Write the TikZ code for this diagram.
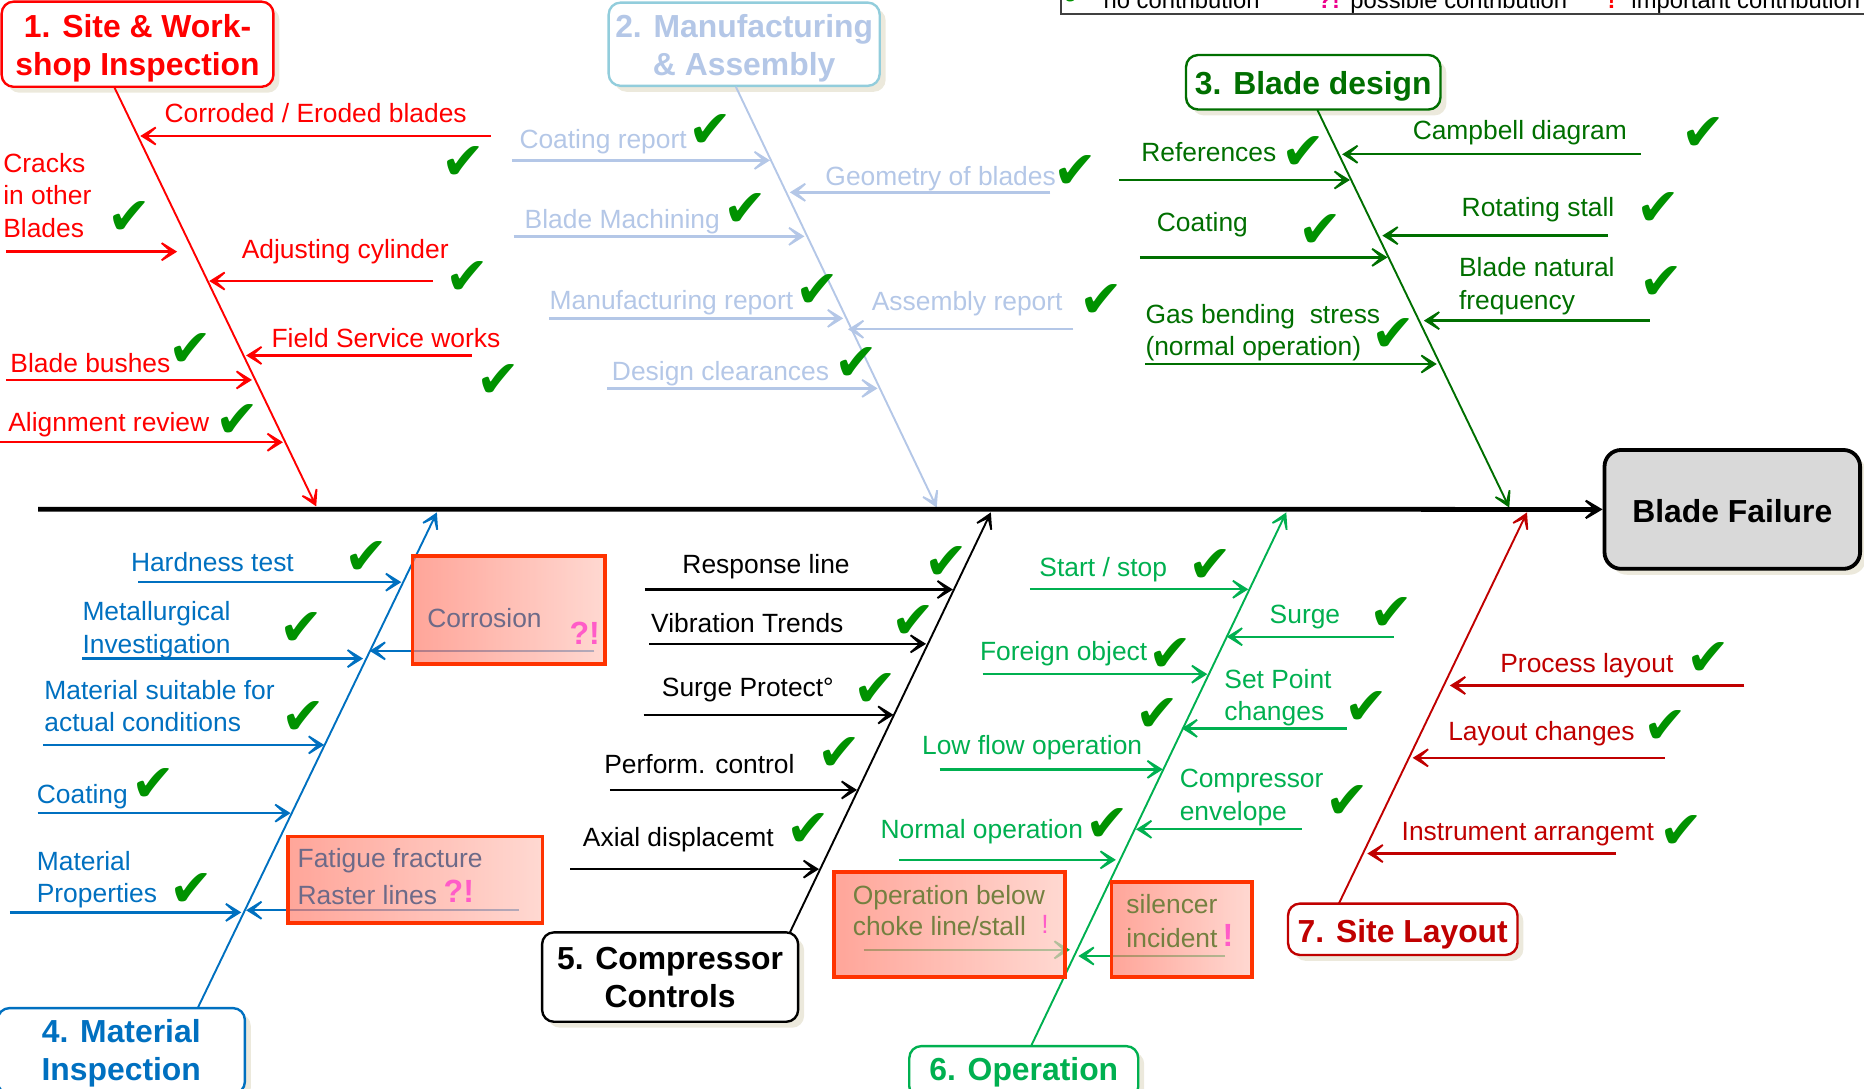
\documentclass[tikz,border=0pt]{standalone}
\usepackage{fontspec}
\setmainfont{Liberation Sans}
\newfontfamily\chkfamily{DejaVu Sans}
\usepackage{tikz}
\usetikzlibrary{arrows.meta,shadows}
\usepackage{xcolor}
\definecolor{siteRed}{HTML}{FF0000}
\definecolor{mfgBlue}{HTML}{B4C7E7}
\definecolor{mfgFrame}{HTML}{92CDDC}
\definecolor{designGreen}{HTML}{006F00}
\definecolor{matBlue}{HTML}{0070C0}
\definecolor{opGreen}{HTML}{00B050}
\definecolor{layoutRed}{HTML}{C00000}
\definecolor{tickGreen}{HTML}{009200}
\definecolor{flagPink}{HTML}{FF5CC8}
\definecolor{hlFrame}{HTML}{FF3300}
\definecolor{hlLeft}{HTML}{FF7F6E}
\definecolor{hlRight}{HTML}{FFC8BE}
\definecolor{hlText}{HTML}{6D6A88}
\definecolor{hlOlive}{HTML}{748040}
\definecolor{shadowBeige}{HTML}{ECE9DC}
\definecolor{failGray}{HTML}{D9D9D9}
\newcommand{\lblfont}{\fontsize{11.1}{13.6}\selectfont}
\newcommand{\ttlfont}{\fontsize{13.4}{16}\selectfont\bfseries}
\newcommand{\tickfont}{\chkfamily\fontsize{22}{22}\selectfont}
\newcommand{\flagfont}{\fontsize{13.5}{15}\selectfont\bfseries}
\newcommand{\legfont}{\fontsize{10}{12}\selectfont}
\newcommand{\topgap}[1]{\rule{0pt}{#1}}
\tikzset{
  lbl/.style={font=\lblfont, inner sep=0pt, anchor=west, align=left},
  cause/.style={line width=1pt, -{Stealth[length=10pt,width=12.5pt,inset=7pt]}},
  bone/.style={line width=0.8pt, -{Stealth[length=10.5pt,width=12pt,inset=7.5pt]}},
  catbox/.style={draw, rounded corners=5pt, line width=1pt, fill=white, font=\ttlfont,
    align=center, inner sep=0pt,
    drop shadow={shadow xshift=2.5pt, shadow yshift=-2.5pt, fill=shadowBeige, opacity=1}},
  tick/.style={font=\tickfont, text=tickGreen, inner sep=0pt},
  flag/.style={font=\flagfont, text=flagPink, inner sep=0pt},
  hlbox/.style={draw=hlFrame, line width=1.6pt, left color=hlLeft, right color=hlRight,
    fill opacity=0.7, inner sep=0pt},
}
\begin{document}
\begin{tikzpicture}[x=0.5pt,y=-0.5pt]
\useasboundingbox (0,0) rectangle (1568,916);

% legend, cut by the top edge
\draw[line width=0.8pt, black!75] (892.8,-10) -- (892.8,11.8) -- (1580,11.8);
\node[tick] (lgtick) at (908,-8) {✔};
\node[font=\legfont, inner sep=0pt, anchor=base west] (lgno) at (928,7.5) {no contribution};
\node[font=\legfont\bfseries, text=magenta, inner sep=0pt, anchor=base west] (lgq) at (1108,7.5) {?!};
\node[font=\legfont, inner sep=0pt, anchor=base west] (lgposs) at (1135.6,7.5) {possible contribution};
\node[font=\legfont\bfseries, text=red, inner sep=0pt, anchor=base west] (lgexcl) at (1352,7.5) {!};
\node[font=\legfont, inner sep=0pt, anchor=base west] (lgimp) at (1372,7.5) {important contribution};

% category boxes
\node[catbox, draw=siteRed, text=siteRed, minimum width=114.3pt, minimum height=35.8pt] (site) at (115.7,37.2) {\topgap{13.3pt}1. Site \& Work-\\shop Inspection};
\node[catbox, draw=mfgFrame, text=mfgBlue, minimum width=114pt, minimum height=35pt] (mfg) at (626,37.2) {\topgap{13.3pt}2. Manufacturing\\\& Assembly};
\node[catbox, draw=designGreen, text=designGreen, minimum width=107pt, minimum height=22.9pt] (design) at (1104.7,69.2) {\topgap{13.3pt}3. Blade design};
\node[catbox, draw=matBlue, text=matBlue, minimum width=104pt, minimum height=36pt] (material) at (102,884) {\topgap{11.8pt}4. Material\\Inspection};
\node[catbox, draw=black, text=black, minimum width=107.7pt, minimum height=37.6pt] (controls) at (563.7,821.9) {5. Compressor\\Controls};
\node[catbox, draw=opGreen, text=opGreen, minimum width=96.3pt, minimum height=22pt] (operation) at (861.2,902) {6. Operation};
\node[catbox, draw=layoutRed, text=layoutRed, minimum width=96.5pt, minimum height=21.6pt] (layout) at (1180,781.7) {\topgap{13.8pt}7. Site Layout};
\node[catbox, line width=1.6pt, rounded corners=7pt, fill=failGray, minimum width=107.5pt, minimum height=50pt] (fail) at (1457.2,428.5) {\topgap{11pt}Blade Failure};

% bones
\coordinate (s1) at (96,73);      \coordinate (h1) at (266,426);
\coordinate (s2) at (619,73);     \coordinate (h2) at (788,427);
\coordinate (s3) at (1108.2,92.5); \coordinate (h3) at (1269.6,427);
\coordinate (s4) at (166.3,848);  \coordinate (h4) at (367.5,431);
\coordinate (s5) at (664.5,784.3); \coordinate (h5) at (833.5,431);
\coordinate (s6) at (867.3,880);  \coordinate (h6) at (1082,431);
\coordinate (s7) at (1126.3,760); \coordinate (h7) at (1284.5,431);
\draw[bone, siteRed] (s1) -- (h1);
\draw[bone, mfgBlue] (s2) -- (h2);
\draw[bone, designGreen] (s3) -- (h3);
\draw[bone, matBlue] (s4) -- (h4);
\draw[bone, black] (s5) -- (h5);
\draw[bone, opGreen] (s6) -- (h6);
\draw[bone, layoutRed] (s7) -- (h7);

% spine
\coordinate (tail) at (32,428.3);
\draw[line width=2pt, -{Stealth[length=11pt,width=13pt,inset=7.5pt]}] (tail) -- (fail.west);

% ribs
\foreach \xa/\xb/\y in {413/118/114.4, 5/149/211.7, 364/176/236.4, 397/207/299, 5/212/319.6, 0/238/372}
  \draw[cause, siteRed] (\xa,\y) -- (\xb,\y);
\foreach \xa/\xb/\y in {430.6/647.7/134.9, 883.6/664.4/161.8, 432/676.7/198.8, 462/709.3/267.8, 903/713.3/277, 511/738.2/326.7}
  \draw[cause, mfgBlue] (\xa,\y) -- (\xb,\y);
\foreach \xa/\xb/\y in {941.3/1135.6/151.4, 1380.3/1129/129.8, 958.8/1167.2/216.5, 1352.8/1162.8/198.2, 1387.7/1197.7/269.7, 963.2/1208.6/306.2}
  \draw[cause, designGreen] (\xa,\y) -- (\xb,\y);
\foreach \xa/\xb/\y in {116.4/337.6/489.7, 500/311/547.5, 69/305.4/554, 36/272.7/626.6, 31.6/244.5/684, 436.4/207/765.7, 8.3/203/767.5}
  \draw[cause, matBlue] (\xa,\y) -- (\xb,\y);
\foreach \xa/\xb/\y in {542.5/801.6/495.9, 546.3/779/541.6, 541.5/751.7/601.4, 513/721/664.5, 479.8/689/731.1}
  \draw[cause, black] (\xa,\y) -- (\xb,\y);
\foreach \xa/\xb/\y in {866.4/1050.1/495.7, 1172.6/1031.9/535.6, 826.6/1015.6/567.1, 1132.8/994/612.7, 790.4/978.2/647.2, 1095/955.6/697.6, 756.6/938.7/723.3, 726.5/900/799, 1030.5/907.1/804.2}
  \draw[cause, opGreen] (\xa,\y) -- (\xb,\y);
\foreach \xa/\xb/\y in {1467.3/1219.6/576.6, 1400.3/1188.3/637.5, 1359.4/1150.2/718}
  \draw[cause, layoutRed] (\xa,\y) -- (\xb,\y);

% highlighted causes
\node[hlbox, minimum width=81pt, minimum height=45.4pt] (corrbox) at (428,512.9) {};
\node[hlbox, minimum width=107.2pt, minimum height=36.3pt] (fatbox) at (349.2,740) {};
\node[hlbox, minimum width=97.2pt, minimum height=44.4pt] (chokebox) at (798.8,777.6) {};
\node[hlbox, minimum width=59pt, minimum height=40.2pt] (silbox) at (994,781.9) {};
\node[lbl, text=hlText] (corrosion) at (359,519.8) {Corrosion};
\node[lbl, text=hlText, font=\fontsize{11.1}{15.5}\selectfont] (fatigue) at (250,737) {Fatigue fracture\\Raster lines};
\node[lbl, text=hlOlive, font=\fontsize{11.1}{13}\selectfont] (choke) at (717,765.7) {Operation below\\choke line/stall};
\node[lbl, text=hlOlive, font=\fontsize{11.1}{14.5}\selectfont] (silencer) at (947.2,774.6) {silencer\\incident};
\node[flag] (corrflag) at (491.8,532.8) {?!};
\node[flag] (fatflag) at (386,750) {?!};
\node[lbl, text=flagPink, anchor=center] (chokeflag) at (879,778) {!};
\node[flag] (silflag) at (1033,787) {!};

% 1. site & workshop
\node[lbl, text=siteRed] (corroded) at (138,95.3) {Corroded / Eroded blades};
\node[lbl, text=siteRed] (cracks) at (2.4,164.5) {Cracks\\in other\\Blades};
\node[lbl, text=siteRed] (adjust) at (203,211.7) {Adjusting cylinder};
\node[lbl, text=siteRed] (field) at (228,284.6) {Field Service works};
\node[lbl, text=siteRed] (bushes) at (8.4,305.6) {Blade bushes};
\node[lbl, text=siteRed] (alignrev) at (6.6,357.5) {Alignment review};
% 2. manufacturing
\node[lbl, text=mfgBlue] (coatrep) at (436.6,119) {Coating report};
\node[lbl, text=mfgBlue] (geom) at (694,150) {Geometry of blades};
\node[lbl, text=mfgBlue] (machin) at (441,186.5) {Blade Machining};
\node[lbl, text=mfgBlue] (mfgrep) at (462,254.6) {Manufacturing report};
\node[lbl, text=mfgBlue] (asmrep) at (733,255.7) {Assembly report};
\node[lbl, text=mfgBlue] (clear) at (514.4,314.6) {Design clearances};
% 3. blade design
\node[lbl, text=designGreen] (refs) at (959.7,127.6) {References};
\node[lbl, text=designGreen] (campbell) at (1188,112) {Campbell diagram};
\node[lbl, text=designGreen] (coat3) at (972.8,189.3) {Coating};
\node[lbl, text=designGreen] (stall) at (1229.2,176) {Rotating stall};
\node[lbl, text=designGreen] (natfreq) at (1227,240.8) {Blade natural\\frequency};
\node[lbl, text=designGreen] (gasbend) at (963.2,279.7) {Gas bending\ \ stress\\(normal operation)};
% 4. material
\node[lbl, text=matBlue] (hard) at (109.8,473) {Hardness test};
\node[lbl, text=matBlue] (metal) at (69,530) {Metallurgical\\Investigation};
\node[lbl, text=matBlue] (suit) at (37,594) {Material suitable for\\actual conditions};
\node[lbl, text=matBlue] (coat4) at (30.6,670) {Coating};
\node[lbl, text=matBlue] (props) at (30.6,740) {Material\\Properties};
% 5. controls
\node[lbl] (resp) at (573.7,476.3) {Response line};
\node[lbl] (vib) at (547.4,524) {Vibration Trends};
\node[lbl] (surgep) at (556.4,580.2) {Surge Protect°};
\node[lbl] (perf) at (508,642.9) {Perform. control};
\node[lbl] (axial) at (490,706) {Axial displacemt};
% 6. operation
\node[lbl, text=opGreen] (startstop) at (874,478.9) {Start / stop};
\node[lbl, text=opGreen] (surge) at (1067.7,518.7) {Surge};
\node[lbl, text=opGreen] (foreign) at (824,549.8) {Foreign object};
\node[lbl, text=opGreen] (setpt) at (1029.6,586.7) {Set Point\\changes};
\node[lbl, text=opGreen] (lowflow) at (775.3,629.2) {Low flow operation};
\node[lbl, text=opGreen] (envelope) at (992,671) {Compressor\\envelope};
\node[lbl, text=opGreen] (normal) at (740.4,699.4) {Normal operation};
% 7. site layout
\node[lbl, text=layoutRed] (process) at (1261.7,560) {Process layout};
\node[lbl, text=layoutRed] (laych) at (1217.9,617.1) {Layout changes};
\node[lbl, text=layoutRed] (instr) at (1178.7,702.1) {Instrument arrangemt};

% ticks
\foreach \x/\y [count=\i] in {389.5/137, 109/183, 393/234, 419/320.5, 160/294.5, 200/354,
    597.6/110, 905/144.5, 626.8/176.5, 687.8/244.5, 926.8/253.5, 720.3/306.3,
    1096.8/128.3, 1432.5/112.8, 1111/194.2, 1395.3/176, 1397.5/238.4, 1172/282.2,
    308.2/469.5, 253.2/529.5, 255/604, 129.4/660.5, 161.3/748.8,
    796/473.5, 768.3/523.5, 736.8/580.5, 706.4/634.5, 680/698.3,
    1018.5/476, 1170.7/516.4, 984.3/551, 974/601.5, 1149/595.5, 931.8/694.2, 1133.5/674.3,
    1437.4/554.5, 1401/611.9, 1414.4/699.9}
  \node[tick] (tk-\i) at (\x,\y) {✔};
\end{tikzpicture}
\end{document}
